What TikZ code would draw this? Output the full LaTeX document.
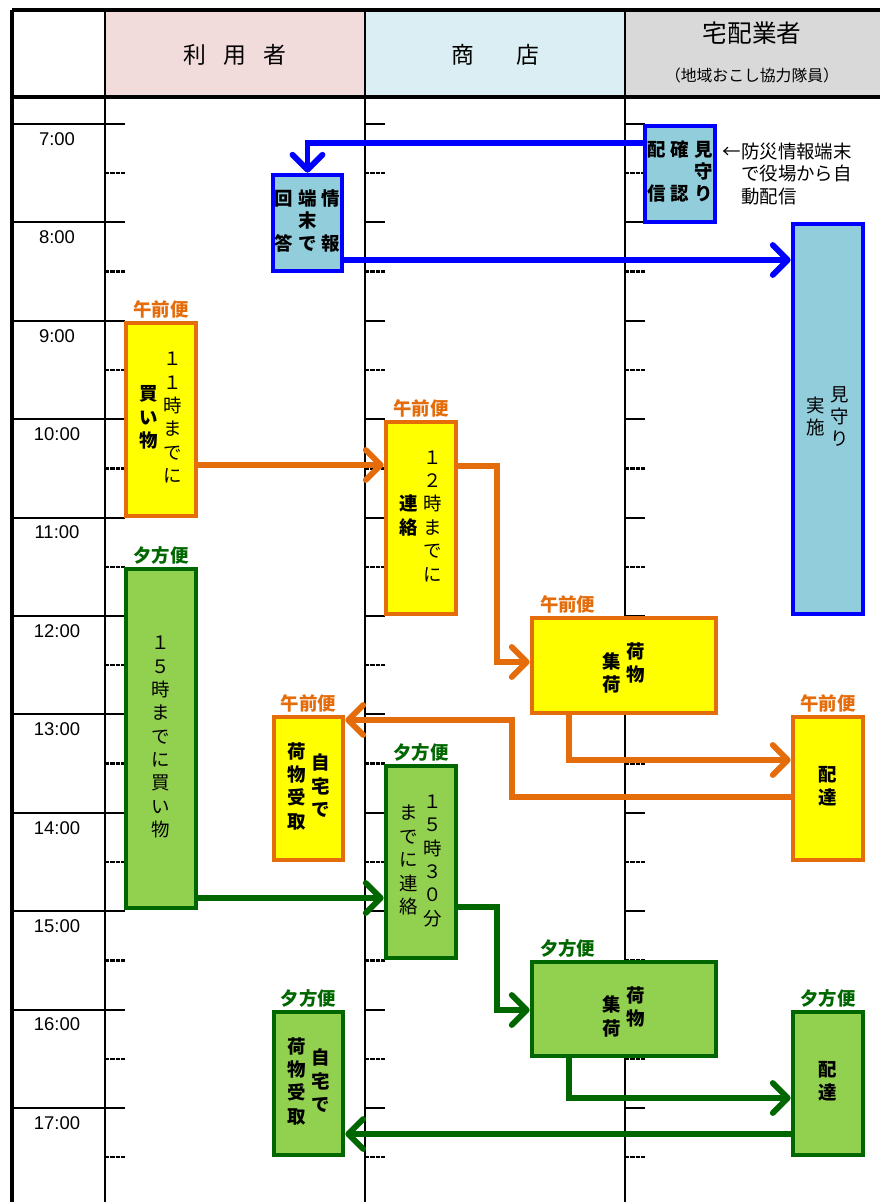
\documentclass[tikz,border=0pt]{standalone}
\usepackage{fontspec}
\setmainfont{Noto Sans CJK JP}
\newfontfamily\timefont{Liberation Sans}
\usetikzlibrary{arrows.meta,positioning}
\definecolor{headpink}{RGB}{242,220,219}
\definecolor{headblue}{RGB}{218,238,243}
\definecolor{headgrey}{RGB}{217,217,217}
\definecolor{infofill}{RGB}{146,205,220}
\definecolor{infoline}{RGB}{0,0,255}
\definecolor{amfill}{RGB}{255,255,0}
\definecolor{amline}{RGB}{228,108,10}
\definecolor{pmfill}{RGB}{146,208,80}
\definecolor{pmline}{RGB}{0,102,0}
\newcommand{\tcol}[1]{\begin{tabular}[c]{@{}c@{}}#1\end{tabular}}

\begin{document}
\begin{tikzpicture}[
  x=0.02cm, y=-0.02cm,
  tbox/.style={line width=2.7pt, inner sep=0pt, font=\fontsize{10.5}{13.3}\selectfont},
  infobox/.style={tbox, draw=infoline, fill=infofill, font=\fontsize{10.5}{12.5}\selectfont\bfseries},
  ambox/.style={tbox, draw=amline, fill=amfill},
  pmbox/.style={tbox, draw=pmline, fill=pmfill},
  binlab/.style={inner sep=0pt, font=\fontsize{10.5}{12}\selectfont\bfseries},
  amlab/.style={binlab, text=amline},
  pmlab/.style={binlab, text=pmline},
  headtext/.style={font=\fontsize{13}{15}\selectfont},
  hourlab/.style={font=\timefont\fontsize{10.5}{12}\selectfont},
  remark/.style={align=left, inner sep=0pt, font=\fontsize{10.5}{12.8}\selectfont},
  flow/.style={line width=3.3pt, -{Straight Barb[length=3mm,width=6mm,round]}},
  colline/.style={line width=1.1pt},
  edgeline/.style={line width=1.8pt},
  halftick/.style={line width=1.4pt, dash pattern=on 2.4pt off 0.7pt},
  every node/.style={font=\fontsize{10}{13}\selectfont}
]
\useasboundingbox (0,0) rectangle (880,1202);

% ---- header row ----
\fill[headpink] (105,10) rectangle (365,97);
\fill[headblue] (365,10) rectangle (625,97);
\fill[headgrey] (625,10) rectangle (880,97);
\node[headtext] (huser) at (235,55) {利\hspace{10pt}用\hspace{10pt}者};
\node[headtext] (hshop) at (495,55) {商\hspace{24pt}店};
\node[headtext, font=\fontsize{14}{16}\selectfont] (hcarrier) at (752,33) {宅配業者};
\node[font=\fontsize{9}{11}\selectfont] (hcorps) at (752,75) {（地域おこし協力隊員）};

% ---- grid: columns, hour lines, half-hour ticks ----
\draw[edgeline] (12,10) -- (880,10);
\draw[edgeline] (12,97) -- (880,97);
\draw[edgeline] (12,10) -- (12,1202);
\foreach \cx in {105,365,625} \draw[colline] (\cx,10) -- (\cx,1202);
\foreach \h [evaluate=\h as \hy using 124+98.4*(\h-7)] in {7,...,17} {
  \draw[colline] (12,\hy) -- (125,\hy);
  \draw[colline] (365,\hy) -- ++(20,0);
  \draw[colline] (625,\hy) -- ++(20,0);
  \node[hourlab] (t\h) at (57,\hy+15) {\h:00};
  \foreach \cx in {105,365,625} \draw[halftick] (\cx,\hy+49.2) -- ++(20,0);
}

% ---- watch service (blue) ----
\node[infobox, minimum width=1.4cm, minimum height=1.92cm] (kakunin) at (680,174)
  {\begin{tabular}{@{}c@{\hspace{3pt}}c@{\hspace{3pt}}c@{}}配&確&見\\&&守\\信&認&り\end{tabular}};
\node[remark, right=0.1cm of kakunin] (bosai)
  {←防災情報端末\\\hspace*{1em}で役場から自\\\hspace*{1em}動配信};
\node[infobox, minimum width=1.38cm, minimum height=1.92cm] (kaito) at (307.5,223)
  {\begin{tabular}{@{}c@{\hspace{3pt}}c@{\hspace{3pt}}c@{}}回&端&情\\&末&\\答&で&報\end{tabular}};
\node[infobox, font=\fontsize{10.5}{12.5}\selectfont, minimum width=1.4cm, minimum height=7.8cm] (jisshi) at (828,419)
  {\tcol{実\\施}\hspace{3pt}\tcol{見\\守\\り}};

\draw[flow, infoline] (kakunin.west |- 0,143) -| (kaito.north);
\draw[flow, infoline] (kaito.east |- 0,260) -- (jisshi.west |- 0,260);

% ---- morning delivery (orange) ----
\node[ambox, minimum width=1.4cm, minimum height=3.86cm] (kaiam) at (161,419.5)
  {{\bfseries\tcol{買\\い\\物}}\hspace{3pt}\tcol{１\\１\\時\\ま\\で\\に}};
\node[ambox, minimum width=1.4cm, minimum height=3.84cm] (renam) at (421,518)
  {{\bfseries\tcol{連\\絡}}\hspace{3pt}\tcol{１\\２\\時\\ま\\で\\に}};
\node[ambox, minimum width=3.68cm, minimum height=1.9cm, font=\fontsize{10.5}{13.3}\selectfont\bfseries] (shukaam) at (624,665.5)
  {\raisebox{-5.5pt}[0pt][0pt]{\tcol{集\\荷}}\hspace{3pt}\tcol{荷\\物}};
\node[ambox, minimum width=1.4cm, minimum height=2.86cm, font=\fontsize{10.5}{12.5}\selectfont\bfseries] (haiam) at (828,788.5)
  {\tcol{配\\達}};
\node[ambox, minimum width=1.38cm, minimum height=2.86cm, font=\fontsize{10.5}{13.3}\selectfont\bfseries] (ukeam) at (308.5,788.5)
  {\tcol{荷\\物\\受\\取}\hspace{3pt}\tcol{自\\宅\\で}};

\node[amlab, above=1pt of kaiam] (labkaiam) {午前便};
\node[amlab, above=1pt of renam] (labrenam) {午前便};
\node[amlab, above right=1pt and 0.2cm of shukaam.north west] (labshukaam) {午前便};
\node[amlab, above=1pt of haiam] (labhaiam) {午前便};
\node[amlab, above=1pt of ukeam] (labukeam) {午前便};

\draw[flow, amline] (kaiam.east |- 0,465) -- (renam.west |- 0,465);
\draw[flow, amline] (renam.east |- 0,466) -| (497,662) -- (shukaam.west |- 0,662);
\draw[flow, amline] (569,0 |- shukaam.south) |- (haiam.west |- 0,760);
\draw[flow, amline] (haiam.west |- 0,797) -| (512,720) -- (ukeam.east |- 0,720);

% ---- evening delivery (green) ----
\node[pmbox, minimum width=1.4cm, minimum height=6.78cm] (kaipm) at (161,738.5)
  {\tcol{１\\５\\時\\ま\\で\\に\\買\\い\\物}};
\node[pmbox, minimum width=1.4cm, minimum height=3.84cm] (renpm) at (421,862)
  {\tcol{ま\\で\\に\\連\\絡}\hspace{3pt}\tcol{１\\５\\時\\３\\０\\分}};
\node[pmbox, minimum width=3.68cm, minimum height=1.88cm, font=\fontsize{10.5}{13.3}\selectfont\bfseries] (shukapm) at (624,1009)
  {\raisebox{-5.5pt}[0pt][0pt]{\tcol{集\\荷}}\hspace{3pt}\tcol{荷\\物}};
\node[pmbox, minimum width=1.4cm, minimum height=2.86cm, font=\fontsize{10.5}{12.5}\selectfont\bfseries] (haipm) at (828,1083.5)
  {\tcol{配\\達}};
\node[pmbox, minimum width=1.38cm, minimum height=2.86cm, font=\fontsize{10.5}{13.3}\selectfont\bfseries] (ukepm) at (308.5,1083.5)
  {\tcol{荷\\物\\受\\取}\hspace{3pt}\tcol{自\\宅\\で}};

\node[pmlab, above=1pt of kaipm] (labkaipm) {夕方便};
\node[pmlab, above=1pt of renpm] (labrenpm) {夕方便};
\node[pmlab, above right=1pt and 0.2cm of shukapm.north west] (labshukapm) {夕方便};
\node[pmlab, above=1pt of haipm] (labhaipm) {夕方便};
\node[pmlab, above=1pt of ukepm] (labukepm) {夕方便};

\draw[flow, pmline] (kaipm.east |- 0,898) -- (renpm.west |- 0,898);
\draw[flow, pmline] (renpm.east |- 0,907) -| (497,1010) -- (shukapm.west |- 0,1010);
\draw[flow, pmline] (569,0 |- shukapm.south) |- (haipm.west |- 0,1098);
\draw[flow, pmline] (haipm.west |- 0,1134) -- (ukepm.east |- 0,1134);

\end{tikzpicture}
\end{document}
